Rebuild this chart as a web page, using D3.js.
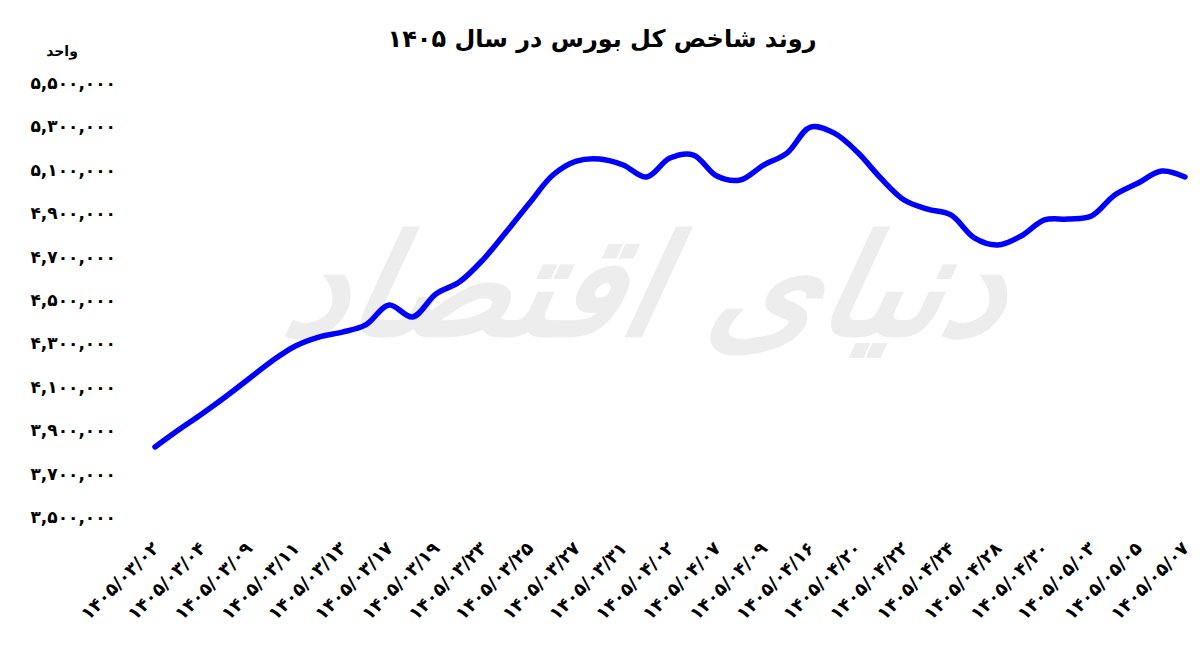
<!DOCTYPE html>
<html><head><meta charset="utf-8">
<script src="https://cdn.jsdelivr.net/npm/d3@7"></script>
<style>
html,body{margin:0;padding:0;background:#fff;}
svg{display:block;font-family:"DejaVu Sans",sans-serif;}
</style></head>
<body>
<svg id="chart" width="1200" height="650"></svg>
<script>
const title = "روند شاخص کل بورس در سال ۱۴۰۵";
const unitLabel = "واحد";
const watermark = "دنیای اقتصاد";
const tickLabels = [
  "۱۴۰۵/۰۳/۰۲","۱۴۰۵/۰۳/۰۴","۱۴۰۵/۰۳/۰۹","۱۴۰۵/۰۳/۱۱","۱۴۰۵/۰۳/۱۳","۱۴۰۵/۰۳/۱۷",
  "۱۴۰۵/۰۳/۱۹","۱۴۰۵/۰۳/۲۳","۱۴۰۵/۰۳/۲۵","۱۴۰۵/۰۳/۲۷","۱۴۰۵/۰۳/۳۱","۱۴۰۵/۰۴/۰۲",
  "۱۴۰۵/۰۴/۰۷","۱۴۰۵/۰۴/۰۹","۱۴۰۵/۰۴/۱۶","۱۴۰۵/۰۴/۲۰","۱۴۰۵/۰۴/۲۲","۱۴۰۵/۰۴/۲۴",
  "۱۴۰۵/۰۴/۲۸","۱۴۰۵/۰۴/۳۰","۱۴۰۵/۰۵/۰۳","۱۴۰۵/۰۵/۰۵","۱۴۰۵/۰۵/۰۷"
];
// one value per trading session; every second session carries a tick label
const indexValues = [
  3823000,3901000,3975000,4053000,4136000,4219000,4288000,4329000,4352000,4385000,
  4477000,4422000,4528000,4583000,4684000,4813000,4947000,5076000,5140000,5150000,
  5122000,5067000,5154000,5168000,5071000,5053000,5122000,5177000,5297000,5270000,
  5182000,5062000,4961000,4919000,4892000,4786000,4753000,4795000,4869000,4873000,
  4887000,4984000,5039000,5094000,5067000
];
const yTicks = [3500000,3700000,3900000,4100000,4300000,4500000,4700000,4900000,5100000,5300000,5500000];

const faDigits = s => String(s).replace(/\d/g, d => "۰۱۲۳۴۵۶۷۸۹"[+d]);
const fmt = v => faDigits(d3.format(",")(v));

const svg = d3.select("#chart");
const margin = {left:155, right:15, top:83, bottom:133};
const W = 1200, H = 650;

const x = d3.scaleLinear().domain([0, indexValues.length - 1]).range([margin.left, W - margin.right]);
const y = d3.scaleLinear().domain([3500000, 5500000]).range([H - margin.bottom, margin.top]);

// watermark
svg.append("text")
  .attr("x", 640).attr("y", 335)
  .attr("text-anchor", "middle")
  .attr("direction", "rtl")
  .attr("font-size", 140)
  .attr("font-weight", "bold")
  .attr("font-style", "italic")
  .attr("fill", "#ededed")
  .attr("transform", "skewX(-12) translate(70,0)")
  .text(watermark);

// title
svg.append("text")
  .attr("x", 602).attr("y", 47)
  .attr("text-anchor", "middle")
  .attr("direction", "rtl")
  .attr("font-size", 24)
  .attr("font-weight", "bold")
  .attr("fill", "#000")
  .text(title);

svg.append("text")
  .attr("x", 62).attr("y", 56)
  .attr("text-anchor", "middle")
  .attr("direction", "rtl")
  .attr("font-size", 14)
  .attr("font-weight", "bold")
  .text(unitLabel);

// y axis
const yAxis = d3.axisLeft(y).tickValues(yTicks).tickFormat(fmt).tickSize(0).tickPadding(0);
const gy = svg.append("g").attr("transform", `translate(116,0)`).call(yAxis);
gy.select(".domain").remove();
gy.selectAll("text").attr("font-size", 17).attr("font-weight", "bold")
  .attr("font-family", "DejaVu Sans").attr("fill", "#000").attr("direction", "ltr");

// x axis
const tickIdx = tickLabels.map((_, i) => i * 2);
const xAxis = d3.axisBottom(x).tickValues(tickIdx).tickFormat(d => tickLabels[d / 2]).tickSize(0).tickPadding(0);
const gx = svg.append("g").attr("transform", `translate(0,${H - margin.bottom + 28})`).call(xAxis);
gx.select(".domain").remove();
gx.selectAll("text")
  .attr("font-size", 18).attr("font-weight", "bold").attr("font-family", "DejaVu Sans")
  .attr("fill", "#000").attr("direction", "ltr")
  .attr("text-anchor", "end").attr("dy", "0.35em")
  .attr("transform", "rotate(-45)");

// line
const line = d3.line()
  .x((d, i) => x(i))
  .y(d => y(d))
  .curve(d3.curveCatmullRom.alpha(0.5));
svg.append("path")
  .datum(indexValues)
  .attr("d", line)
  .attr("fill", "none")
  .attr("stroke", "#0000ff")
  .attr("stroke-width", 5.5)
  .attr("stroke-linecap", "round")
  .attr("stroke-linejoin", "round");
</script>
</body></html>
